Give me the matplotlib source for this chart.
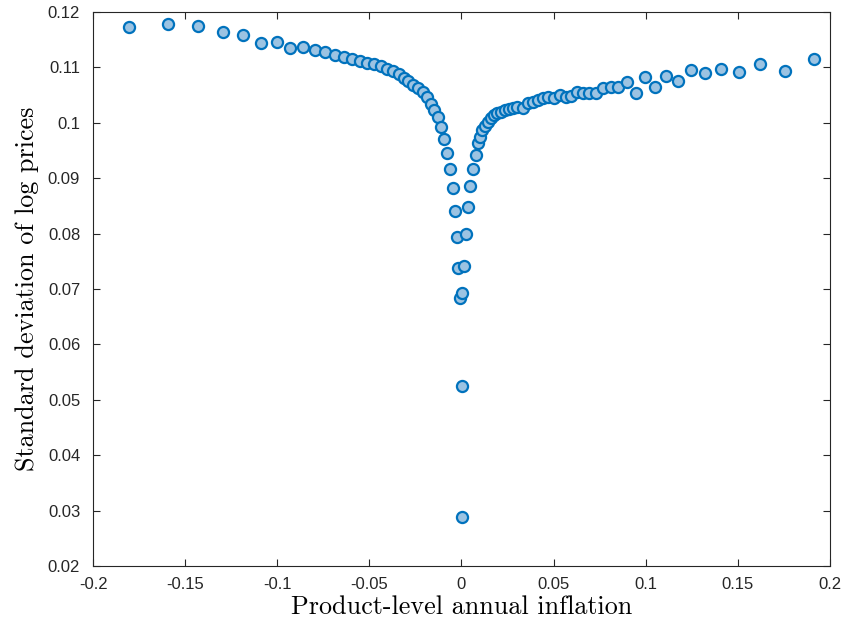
import matplotlib
matplotlib.use('Agg')
from matplotlib import pyplot as plt
import numpy as np

# product-level inflation bins (x) and dispersion of log prices (y)
neg_infl = [-0.1806, -0.1597, -0.1434, -0.1298, -0.1188, -0.1090, -0.1003, -0.0929,
            -0.0860, -0.0797, -0.0741, -0.0688, -0.0639, -0.0594, -0.0552, -0.0512,
            -0.0474, -0.0440, -0.0405, -0.0373, -0.0342, -0.0315, -0.0288, -0.0263,
            -0.0235, -0.0211, -0.0188, -0.0168, -0.0148, -0.0130, -0.0112, -0.0094,
            -0.0078, -0.0064, -0.0048, -0.0034, -0.0025, -0.0018, -0.0007]
neg_sd = [0.1173, 0.1178, 0.1174, 0.1163, 0.1158, 0.1143, 0.1145, 0.1134,
          0.1136, 0.1131, 0.1128, 0.1123, 0.1119, 0.1115, 0.1111, 0.1107,
          0.1106, 0.1103, 0.1097, 0.1094, 0.1087, 0.1081, 0.1075, 0.1068,
          0.1062, 0.1056, 0.1046, 0.1033, 0.1023, 0.1010, 0.0992, 0.0970,
          0.0945, 0.0917, 0.0882, 0.0841, 0.0793, 0.0737, 0.0684]

zero_infl = [0.0002, 0.0002]
zero_sd = [0.0524, 0.0288]

pos_infl = [0.0004, 0.0015, 0.0026, 0.0035, 0.0047, 0.0062, 0.0077, 0.0088,
            0.0100, 0.0113, 0.0127, 0.0142, 0.0158, 0.0176, 0.0194, 0.0214,
            0.0236, 0.0258, 0.0281, 0.0304, 0.0332, 0.0363, 0.0390, 0.0417,
            0.0441, 0.0471, 0.0504, 0.0535, 0.0567, 0.0593, 0.0629, 0.0661,
            0.0694, 0.0732, 0.0770, 0.0810, 0.0852, 0.0897, 0.0946, 0.0995,
            0.1051, 0.1109, 0.1174, 0.1245, 0.1323, 0.1408, 0.1506, 0.1620,
            0.1756, 0.1915]
pos_sd = [0.0692, 0.0741, 0.0799, 0.0847, 0.0886, 0.0917, 0.0942, 0.0963,
          0.0975, 0.0986, 0.0994, 0.1001, 0.1008, 0.1014, 0.1018, 0.1020,
          0.1022, 0.1024, 0.1026, 0.1028, 0.1027, 0.1035, 0.1038, 0.1041,
          0.1045, 0.1047, 0.1044, 0.1050, 0.1047, 0.1049, 0.1056, 0.1054,
          0.1054, 0.1053, 0.1063, 0.1064, 0.1065, 0.1074, 0.1053, 0.1083,
          0.1064, 0.1084, 0.1076, 0.1095, 0.1089, 0.1097, 0.1092, 0.1106,
          0.1094, 0.1115]

xticks = [-0.2, -0.15, -0.1, -0.05, 0, 0.05, 0.1, 0.15, 0.2]
xticklabels = ['-0.2', '-0.15', '-0.1', '-0.05', '0', '0.05', '0.1', '0.15', '0.2']
yticks = [0.02, 0.03, 0.04, 0.05, 0.06, 0.07, 0.08, 0.09, 0.1, 0.11, 0.12]
yticklabels = ['0.02', '0.03', '0.04', '0.05', '0.06', '0.07', '0.08', '0.09', '0.1', '0.11', '0.12']

infl = np.concatenate([neg_infl, zero_infl, pos_infl])
sd = np.concatenate([neg_sd, zero_sd, pos_sd])

fig = plt.figure(figsize=(8.41, 6.23), dpi=100)
ax = fig.add_axes([0.111, 0.0915, 0.8755, 0.8895])

ax.plot(infl, sd, 'o', markersize=8, markerfacecolor='#9CC3E2',
        markeredgecolor='#0072BD', markeredgewidth=1.6, clip_on=False)

ax.set_xlim(-0.2, 0.2)
ax.set_ylim(0.02, 0.12)
ax.set_xticks(xticks)
ax.set_xticklabels(xticklabels, fontfamily='Liberation Sans', fontsize=12)
ax.set_yticks(yticks)
ax.set_yticklabels(yticklabels, fontfamily='Liberation Sans', fontsize=12)
ax.tick_params(direction='in', length=5, width=0.8, color='#262626',
               top=True, right=True, labelcolor='#262626')
ax.tick_params(axis='x', pad=8)
ax.tick_params(axis='y', pad=9.5)
for s in ax.spines.values():
    s.set_color('#262626')
    s.set_linewidth(0.8)

ax.set_xlabel('Product-level annual inflation', fontfamily='cmr10', fontsize=18.8, labelpad=2)
ax.set_ylabel('Standard deviation of log prices', fontfamily='cmr10', fontsize=18.8, labelpad=6)

fig.savefig('out.png', dpi=100)
